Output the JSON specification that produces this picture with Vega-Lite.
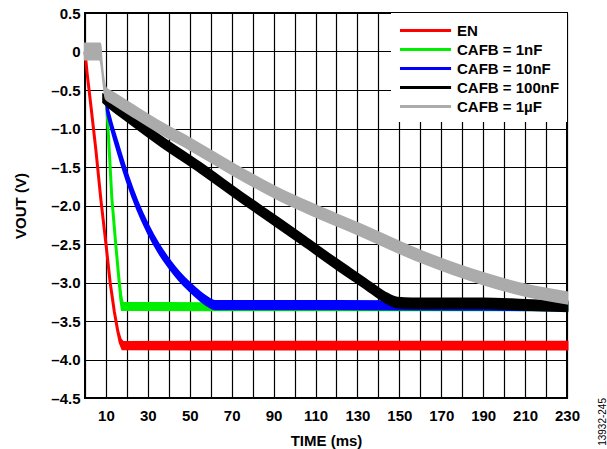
{
  "$schema": "https://vega.github.io/schema/vega-lite/v6.json",
  "width": 482,
  "height": 385,
  "autosize": {"type": "none"},
  "padding": {"left": 85, "top": 13, "right": 40, "bottom": 51},
  "background": "white",
  "config": {
    "font": "Liberation Sans",
    "view": {"stroke": "#000", "strokeWidth": 2},
    "axis": {
      "grid": true,
      "gridColor": "#000",
      "gridOpacity": 1,
      "gridWidth": 1.2,
      "ticks": false,
      "domain": false,
      "labelFont": "Liberation Sans",
      "labelFontSize": 15,
      "labelFontWeight": "bold",
      "labelColor": "#000",
      "titleFont": "Liberation Sans",
      "titleFontSize": 15,
      "titleFontWeight": "bold",
      "titleColor": "#000",
      "labelOverlap": false,
      "labelFlush": false
    },
    "legend": {
      "title": null,
      "orient": "top-right",
      "offset": 0,
      "padding": 7,
      "fillColor": "#ffffff",
      "symbolType": "M-1,0H5",
      "symbolSize": 290,
      "symbolStrokeWidth": 3,
      "labelOffset": 38,
      "labelFont": "Liberation Sans",
      "labelFontSize": 15,
      "labelFontWeight": "bold",
      "labelColor": "#000",
      "labelLimit": 300,
      "rowPadding": 0
    }
  },
  "title": {
    "text": "13932-245",
    "orient": "right",
    "anchor": "end",
    "angle": 270,
    "fontSize": 10,
    "fontWeight": "normal",
    "font": "Liberation Sans",
    "color": "#000",
    "offset": 8,
    "frame": "group"
  },
  "data": {
    "values": [
      {"s": "EN", "t": 0, "lo": 0.0, "hi": 0.0},
      {"s": "EN", "t": 1, "lo": -0.28, "hi": -0.28},
      {"s": "EN", "t": 3, "lo": -0.75, "hi": -0.75},
      {"s": "EN", "t": 5.2, "lo": -1.28, "hi": -1.28},
      {"s": "EN", "t": 7.6, "lo": -1.93, "hi": -1.93},
      {"s": "EN", "t": 10, "lo": -2.5, "hi": -2.5},
      {"s": "EN", "t": 12, "lo": -3.0, "hi": -3.0},
      {"s": "EN", "t": 14, "lo": -3.38, "hi": -3.38},
      {"s": "EN", "t": 15.7, "lo": -3.64, "hi": -3.64},
      {"s": "EN", "t": 16.8, "lo": -3.78, "hi": -3.74},
      {"s": "EN", "t": 18, "lo": -3.86, "hi": -3.78},
      {"s": "EN", "t": 60, "lo": -3.865, "hi": -3.775},
      {"s": "EN", "t": 120, "lo": -3.865, "hi": -3.775},
      {"s": "EN", "t": 180, "lo": -3.865, "hi": -3.775},
      {"s": "EN", "t": 230, "lo": -3.865, "hi": -3.775},

      {"s": "CAFB = 1nF", "t": 10, "lo": -0.5, "hi": -0.5},
      {"s": "CAFB = 1nF", "t": 10.6, "lo": -0.8, "hi": -0.8},
      {"s": "CAFB = 1nF", "t": 11.5, "lo": -1.25, "hi": -1.25},
      {"s": "CAFB = 1nF", "t": 12.8, "lo": -1.9, "hi": -1.9},
      {"s": "CAFB = 1nF", "t": 14.5, "lo": -2.45, "hi": -2.45},
      {"s": "CAFB = 1nF", "t": 16, "lo": -2.9, "hi": -2.9},
      {"s": "CAFB = 1nF", "t": 17.1, "lo": -3.22, "hi": -3.18},
      {"s": "CAFB = 1nF", "t": 17.8, "lo": -3.35, "hi": -3.27},
      {"s": "CAFB = 1nF", "t": 60, "lo": -3.355, "hi": -3.275},
      {"s": "CAFB = 1nF", "t": 140, "lo": -3.355, "hi": -3.275},
      {"s": "CAFB = 1nF", "t": 230, "lo": -3.355, "hi": -3.275},

      {"s": "CAFB = 10nF", "t": 10, "lo": -0.52, "hi": -0.48},
      {"s": "CAFB = 10nF", "t": 10.5, "lo": -0.76, "hi": -0.68},
      {"s": "CAFB = 10nF", "t": 12, "lo": -0.94, "hi": -0.86},
      {"s": "CAFB = 10nF", "t": 15, "lo": -1.24, "hi": -1.14},
      {"s": "CAFB = 10nF", "t": 20, "lo": -1.68, "hi": -1.58},
      {"s": "CAFB = 10nF", "t": 25, "lo": -2.05, "hi": -1.95},
      {"s": "CAFB = 10nF", "t": 30, "lo": -2.35, "hi": -2.25},
      {"s": "CAFB = 10nF", "t": 35, "lo": -2.6, "hi": -2.5},
      {"s": "CAFB = 10nF", "t": 40, "lo": -2.8, "hi": -2.7},
      {"s": "CAFB = 10nF", "t": 45, "lo": -2.97, "hi": -2.87},
      {"s": "CAFB = 10nF", "t": 50, "lo": -3.11, "hi": -3.01},
      {"s": "CAFB = 10nF", "t": 55, "lo": -3.23, "hi": -3.13},
      {"s": "CAFB = 10nF", "t": 58, "lo": -3.29, "hi": -3.19},
      {"s": "CAFB = 10nF", "t": 62, "lo": -3.345, "hi": -3.245},
      {"s": "CAFB = 10nF", "t": 120, "lo": -3.345, "hi": -3.245},
      {"s": "CAFB = 10nF", "t": 180, "lo": -3.35, "hi": -3.25},
      {"s": "CAFB = 10nF", "t": 230, "lo": -3.36, "hi": -3.26},

      {"s": "CAFB = 100nF", "t": 8.8, "lo": -0.66, "hi": -0.56},
      {"s": "CAFB = 100nF", "t": 10, "lo": -0.69, "hi": -0.57},
      {"s": "CAFB = 100nF", "t": 20, "lo": -0.9, "hi": -0.78},
      {"s": "CAFB = 100nF", "t": 36, "lo": -1.22, "hi": -1.1},
      {"s": "CAFB = 100nF", "t": 55, "lo": -1.57, "hi": -1.45},
      {"s": "CAFB = 100nF", "t": 75, "lo": -1.96, "hi": -1.84},
      {"s": "CAFB = 100nF", "t": 93, "lo": -2.3, "hi": -2.18},
      {"s": "CAFB = 100nF", "t": 105, "lo": -2.53, "hi": -2.41},
      {"s": "CAFB = 100nF", "t": 120, "lo": -2.82, "hi": -2.7},
      {"s": "CAFB = 100nF", "t": 134, "lo": -3.08, "hi": -2.96},
      {"s": "CAFB = 100nF", "t": 143, "lo": -3.25, "hi": -3.13},
      {"s": "CAFB = 100nF", "t": 149, "lo": -3.32, "hi": -3.2},
      {"s": "CAFB = 100nF", "t": 156, "lo": -3.33, "hi": -3.21},
      {"s": "CAFB = 100nF", "t": 190, "lo": -3.33, "hi": -3.21},
      {"s": "CAFB = 100nF", "t": 210, "lo": -3.35, "hi": -3.23},
      {"s": "CAFB = 100nF", "t": 230, "lo": -3.37, "hi": -3.25},

      {"s": "CAFB = 1µF", "t": 0, "lo": -0.1, "hi": 0.1},
      {"s": "CAFB = 1µF", "t": 7.3, "lo": -0.1, "hi": 0.1},
      {"s": "CAFB = 1µF", "t": 7.7, "lo": -0.14, "hi": -0.08},
      {"s": "CAFB = 1µF", "t": 10, "lo": -0.61, "hi": -0.48},
      {"s": "CAFB = 1µF", "t": 13, "lo": -0.67, "hi": -0.53},
      {"s": "CAFB = 1µF", "t": 20, "lo": -0.79, "hi": -0.65},
      {"s": "CAFB = 1µF", "t": 36, "lo": -1.06, "hi": -0.92},
      {"s": "CAFB = 1µF", "t": 50, "lo": -1.27, "hi": -1.13},
      {"s": "CAFB = 1µF", "t": 70, "lo": -1.59, "hi": -1.45},
      {"s": "CAFB = 1µF", "t": 93, "lo": -1.93, "hi": -1.79},
      {"s": "CAFB = 1µF", "t": 110, "lo": -2.14, "hi": -2.0},
      {"s": "CAFB = 1µF", "t": 130, "lo": -2.37, "hi": -2.23},
      {"s": "CAFB = 1µF", "t": 160, "lo": -2.73, "hi": -2.59},
      {"s": "CAFB = 1µF", "t": 190, "lo": -3.02, "hi": -2.88},
      {"s": "CAFB = 1µF", "t": 210, "lo": -3.17, "hi": -3.03},
      {"s": "CAFB = 1µF", "t": 230, "lo": -3.27, "hi": -3.13}
    ]
  },
  "encoding": {
    "x": {
      "field": "t",
      "type": "quantitative",
      "scale": {"domain": [0, 230], "nice": false, "zero": false},
      "axis": {
        "title": "TIME (ms)",
        "values": [0, 10, 20, 30, 40, 50, 60, 70, 80, 90, 100, 110, 120, 130, 140, 150, 160, 170, 180, 190, 200, 210, 220, 230],
        "labelExpr": "datum.value % 20 == 10 ? datum.label : ''",
        "labelPadding": 10,
        "titlePadding": 10
      }
    },
    "y": {
      "field": "lo",
      "type": "quantitative",
      "title": "VOUT (V)",
      "scale": {"domain": [-4.5, 0.5], "nice": false, "zero": false},
      "axis": {
        "title": "VOUT (V)",
        "values": [-4.5, -4, -3.5, -3, -2.5, -2, -1.5, -1, -0.5, 0, 0.5],
        "labelExpr": "datum.value == 0 ? '0' : (datum.value < 0 ? '–' : '') + format(abs(datum.value), '.1f')",
        "labelPadding": 5,
        "titlePadding": 22
      }
    },
    "y2": {"field": "hi"},
    "fill": {
      "field": "s",
      "type": "nominal",
      "scale": {
        "domain": ["EN", "CAFB = 1nF", "CAFB = 10nF", "CAFB = 100nF", "CAFB = 1µF"],
        "range": ["#ff0000", "#00ee00", "#0000ff", "#000000", "#ababab"]
      }
    },
    "stroke": {
      "field": "s",
      "type": "nominal",
      "scale": {
        "domain": ["EN", "CAFB = 1nF", "CAFB = 10nF", "CAFB = 100nF", "CAFB = 1µF"],
        "range": ["#ff0000", "#00ee00", "#0000ff", "#000000", "#ababab"]
      }
    }
  },
  "layer": [
    {"transform": [{"filter": "datum.s == 'EN'"}], "mark": {"type": "area", "orient": "vertical", "strokeWidth": 3}},
    {"transform": [{"filter": "datum.s == 'CAFB = 1nF'"}], "mark": {"type": "area", "orient": "vertical", "strokeWidth": 3}},
    {"transform": [{"filter": "datum.s == 'CAFB = 10nF'"}], "mark": {"type": "area", "orient": "vertical", "strokeWidth": 2.5, "interpolate": "monotone"}},
    {"transform": [{"filter": "datum.s == 'CAFB = 100nF'"}], "mark": {"type": "area", "orient": "vertical", "strokeWidth": 2.5, "interpolate": "monotone"}},
    {"transform": [{"filter": "datum.s == 'CAFB = 1µF'"}], "mark": {"type": "area", "orient": "vertical", "strokeWidth": 2.5, "interpolate": "monotone"}}
  ]
}
